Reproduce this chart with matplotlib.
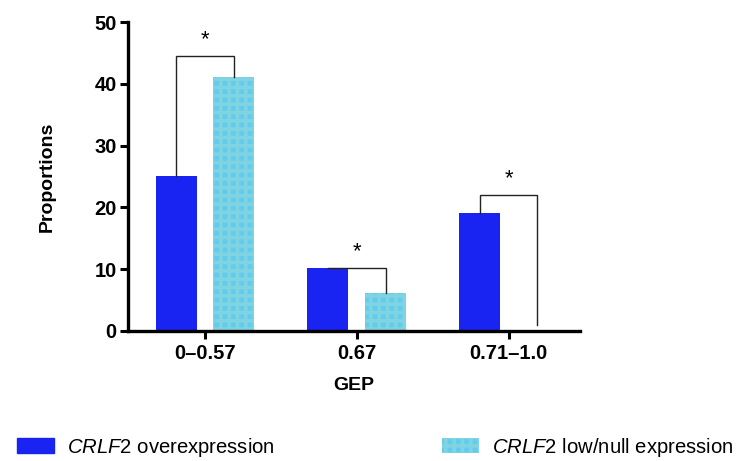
import matplotlib
matplotlib.use("Agg")
import matplotlib.pyplot as plt
from matplotlib.patches import Patch
import numpy as np

plt.rcParams["font.family"] = ["Liberation Sans", "DejaVu Sans"]
plt.rcParams["mathtext.fontset"] = "custom"
plt.rcParams["mathtext.rm"] = "Liberation Sans"
plt.rcParams["mathtext.it"] = "Liberation Sans:italic"
plt.rcParams["hatch.linewidth"] = 2.5

# --------------------------- data --------------------------------
categories = ["0\u20130.57", "0.67", "0.71\u20131.0"]
over = [25.1, 10.2, 19.1]          # CRLF2 overexpression
low = [41.1, 6.1, 0.0]             # CRLF2 low/null expression
bracket_top = [44.5, 10.2, 22.0]   # height of significance brackets
labels = [r"$\it{CRLF2}$ overexpression", r"$\it{CRLF2}$ low/null expression"]

BLUE = "#1a24f2"
CYAN = "#62ccee"
CYAN_HATCH = "#80d4e2"

fig = plt.figure(figsize=(7.41, 4.61), dpi=100)
ax = fig.add_axes([0.1727, 0.282, 0.61, 0.670])

x = np.arange(len(categories))
off, w = 0.19, 0.27
ax.bar(x - off, over, w, color=BLUE, edgecolor=BLUE, linewidth=0)
ax.bar(x + off, low, w, color=CYAN, edgecolor=CYAN_HATCH, hatch="++",
       linewidth=0)

# significance brackets
for i in range(len(categories)):
    xl, xr = x[i] - off, x[i] + off
    yl = over[i]
    yr = low[i] if low[i] > 0 else 0.9
    top = bracket_top[i]
    ax.plot([xl, xl, xr, xr], [yl, top, top, yr], color="#222222",
            lw=1.0, solid_joinstyle="miter", zorder=3)
    ax.text(x[i], top + 1.0, "*", ha="center", va="bottom", fontsize=16)

ax.set_xlim(-0.507, 2.47)
ax.set_ylim(0, 50)
ax.set_yticks([0, 10, 20, 30, 40, 50])
ax.set_xticks(x)
ax.set_xticklabels(categories)
for lab in ax.get_xticklabels() + ax.get_yticklabels():
    lab.set_fontweight("bold")
ax.tick_params(axis="both", labelsize=14.5, width=2.2, length=6,
               direction="out")
ax.tick_params(axis="y", pad=2)
for s in ("top", "right"):
    ax.spines[s].set_visible(False)
for s in ("left", "bottom"):
    ax.spines[s].set_linewidth(2.4)

ax.set_ylabel("Proportions", fontsize=14, fontweight="bold", labelpad=28)
ax.set_xlabel("GEP", fontsize=14, fontweight="bold", labelpad=10)

h1 = Patch(facecolor=BLUE, edgecolor=BLUE)
h2 = Patch(facecolor=CYAN, edgecolor=CYAN_HATCH, hatch="++", linewidth=0)
leg_kw = dict(frameon=False, fontsize=14.6, handlelength=1.8, handleheight=0.72,
              handletextpad=0.65, borderaxespad=0)
fig.legend([h1], [labels[0]], loc="center left", bbox_to_anchor=(0.012, 0.03),
           **leg_kw)
fig.legend([h2], [labels[1]], loc="center left", bbox_to_anchor=(0.586, 0.03),
           **leg_kw)

fig.savefig("out.png", dpi=100)
